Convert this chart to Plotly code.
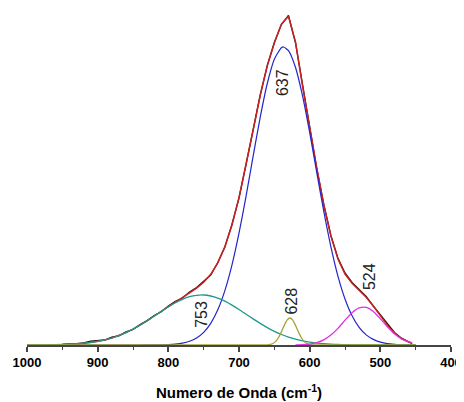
import plotly.graph_objects as go

# ---- data (arbitrary intensity units) ----
wn_total = [950, 940, 930, 920, 910, 900, 890, 880, 870, 860, 850, 840, 830, 820, 810,
            800, 790, 780, 770, 760, 750, 740, 730, 720, 710, 700, 690, 680, 670, 660,
            650, 640, 630, 620, 610, 600, 590, 580, 570, 560, 550, 540, 530, 520, 510,
            500, 490, 480, 470, 460, 455]

data_y = [0.5, 1.2, 1.0, 2.0, 3.8, 4.2, 5.0, 7.8, 9.0, 13.2, 15.5, 20.5, 24.5, 29.5, 33.2,
          39.0, 43.8, 47.0, 53.0, 57.5, 63.5, 70.0, 82.5, 98.0, 120.5, 147.0, 180.5, 214.0, 250.0, 279.5,
          302.5, 320.5, 329.5, 302.0, 259.0, 217.5, 176.5, 140.5, 109.5, 87.0, 72.0, 62.5, 55.5, 48.5, 39.0,
          30.0, 20.5, 12.5, 6.8, 3.0, 1.5]

fit_y = [0.4, 0.7, 1.1, 1.7, 2.5, 3.6, 5.1, 7.0, 9.4, 12.4, 15.9, 19.9, 24.2, 29.0, 33.8,
         38.6, 43.2, 47.6, 52.1, 56.8, 62.7, 70.7, 82.1, 98.2, 119.8, 147.3, 179.7, 214.9, 249.3, 279.1,
         301.9, 320.9, 328.8, 302.9, 258.6, 216.9, 177.0, 140.0, 109.1, 86.0, 71.0, 61.7, 54.8, 47.7, 39.1,
         29.2, 19.6, 11.8, 6.2, 2.9, 1.8]

wn_blue = [1000, 880, 860, 840, 820, 800, 790, 780, 770, 760, 750, 740, 730, 720, 710, 700,
           690, 680, 670, 660, 650, 640, 637, 630, 620, 610, 600, 590, 580, 570, 560, 550,
           540, 530, 520, 510, 500, 490, 480, 470, 460, 450]
blue_y = [0, 0, 0, 0.01, 0.08, 0.42, 0.9, 1.9, 3.8, 7.1, 12.7, 21.7, 35.2, 54.4, 79.9, 111.8,
          148.9, 188.8, 227.7, 261.5, 285.8, 297.3, 298.0, 294.4, 277.5, 248.9, 212.5, 172.7, 133.6, 98.4, 68.9, 46.0,
          29.2, 17.6, 10.1, 5.6, 2.9, 1.4, 0.7, 0.3, 0.1, 0]

wn_teal = [1000, 980, 960, 940, 920, 910, 900, 890, 880, 870, 860, 850, 840, 830, 820, 810,
           800, 790, 780, 770, 760, 750, 740, 730, 720, 710, 700, 690, 680, 670, 660, 650,
           640, 630, 620, 610, 600, 590, 580, 570, 560, 550, 540, 530, 510, 450]
teal_y = [0.03, 0.1, 0.3, 0.8, 1.8, 2.7, 3.7, 5.1, 7.0, 9.4, 12.4, 15.9, 19.9, 24.2, 28.9, 33.6,
          38.2, 42.3, 45.7, 48.3, 49.7, 50.0, 49.0, 46.9, 43.8, 39.9, 35.5, 30.8, 26.1, 21.6, 17.4, 13.7,
          10.5, 7.9, 5.8, 4.1, 2.9, 1.95, 1.3, 0.84, 0.53, 0.33, 0.2, 0.12, 0.04, 0]

wn_olive = [1000, 670, 664, 660, 656, 652, 648, 644, 640, 636, 632, 628, 624, 620, 616,
            612, 608, 604, 600, 596, 592, 586, 450]
olive_y = [0, 0, 0, 0.16, 0.53, 1.5, 3.65, 7.5, 13.1, 19.6, 24.9, 27.0, 24.9, 19.6, 13.1,
           7.5, 3.65, 1.5, 0.53, 0.16, 0, 0, 0]

wn_mag = [620, 610, 600, 590, 580, 570, 560, 550, 540, 530, 520, 510, 500, 490, 480,
          470, 460, 455]
mag_y = [0.1, 0.34, 0.95, 2.4, 5.1, 9.9, 16.6, 24.7, 32.3, 37.1, 37.6, 33.5, 26.3, 18.2, 11.2,
         6.2, 3.4, 2.4]

peak_labels = ["637", "753", "628", "524"]
label_x = [639, 754, 627, 516]
label_y = [262, 31, 44, 68]

fig = go.Figure()

fig.add_trace(go.Scatter(x=wn_total, y=data_y, mode="lines",
                         line=dict(color="#151515", width=1.3), hoverinfo="skip"))
fig.add_trace(go.Scatter(x=wn_total, y=fit_y, mode="lines",
                         line=dict(color="#cc2020", width=1.5), hoverinfo="skip"))
fig.add_trace(go.Scatter(x=wn_blue, y=blue_y, mode="lines",
                         line=dict(color="#2424cc", width=1.2, shape="spline", smoothing=0.6),
                         hoverinfo="skip"))
fig.add_trace(go.Scatter(x=wn_teal, y=teal_y, mode="lines",
                         line=dict(color="#1d9a8a", width=1.3, shape="spline", smoothing=0.6),
                         hoverinfo="skip"))
fig.add_trace(go.Scatter(x=wn_olive, y=olive_y, mode="lines",
                         line=dict(color="#a3a336", width=1.3, shape="spline", smoothing=0.5),
                         hoverinfo="skip"))
fig.add_trace(go.Scatter(x=wn_mag, y=mag_y, mode="lines",
                         line=dict(color="#e030e0", width=1.3, shape="spline", smoothing=0.6),
                         hoverinfo="skip"))

for t, xv, yv in zip(peak_labels, label_x, label_y):
    fig.add_annotation(x=xv, y=yv, text=t, showarrow=False, textangle=-90,
                       font=dict(family="Liberation Sans, Arial, sans-serif", size=16, color="#222"))

fig.update_layout(
    width=464, height=394,
    margin=dict(l=19, r=21, t=2, b=57),
    paper_bgcolor="white", plot_bgcolor="white",
    showlegend=False,
    xaxis=dict(
        range=[1000, 400], dtick=100, tick0=0,
        showgrid=False, zeroline=False,
        showline=True, linecolor="#444", linewidth=1.5,
        ticks="outside", ticklen=5, tickwidth=1.5, tickcolor="#444",
        minor=dict(ticks="outside", ticklen=3, tickwidth=1.2, dtick=50, tickcolor="#444", showgrid=False),
        tickfont=dict(family="Liberation Sans, Arial, sans-serif", size=13, color="black", weight="bold"),
        title=dict(text="<b>Numero de Onda (cm<sup>-1</sup>)</b>", standoff=18,
                   font=dict(family="Liberation Sans, Arial, sans-serif", size=15, color="black")),
    ),
    yaxis=dict(range=[0, 335], visible=False),
)

fig.write_html("out.html")
